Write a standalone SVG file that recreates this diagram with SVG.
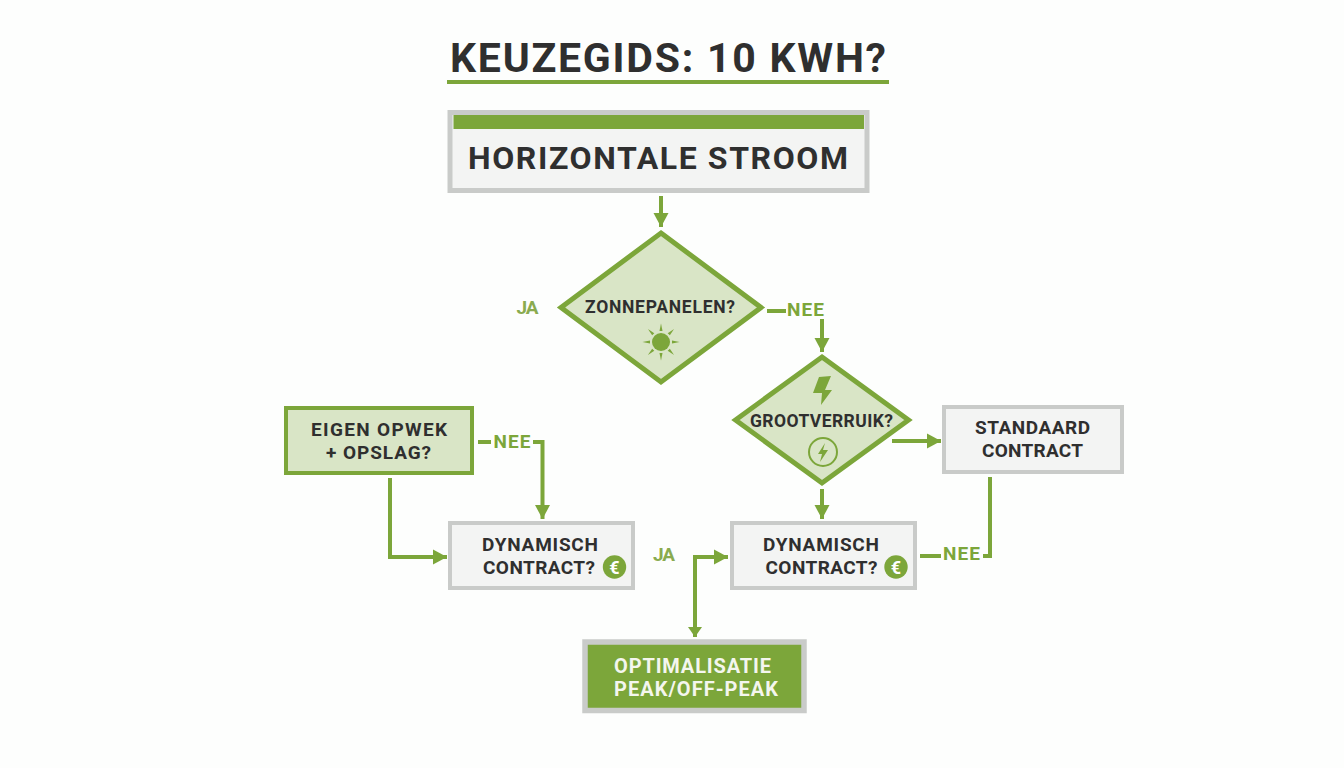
<svg xmlns="http://www.w3.org/2000/svg" width="1344" height="768" viewBox="0 0 1344 768">
<style>
text{font-family:Roboto,"Open Sans","Liberation Sans",sans-serif;font-weight:700;text-anchor:middle;fill:#2f2f2f}
.box{fill:#f3f4f3;stroke:#c9cbc9;stroke-width:4}
.q{fill:#d9e5c6;stroke:#7ca63a;stroke-width:5}
.l{font-size:19px;fill:#7ca63a}
.ja{font-size:19px;fill:#8aab4f}
.t{font-size:19px}
.d{font-size:17.500px}
.e{font-size:18px;fill:#fff}
.w{font-size:20px;fill:#f4f6ee;text-anchor:start}
.c{fill:none;stroke:#7ca63a;stroke-width:4}
.g{fill:#7ca63a}
</style>
<defs>
<marker id="a" markerUnits="userSpaceOnUse" markerWidth="15" markerHeight="16" refX="14" refY="8" orient="auto"><path d="M0 0.500L14 8L0 15.500Z" fill="#7ca63a"/></marker>
<path id="ray" d="M659.500 331L661 323.500L662.500 331Z" fill="#7ca63a"/>
</defs>
<rect width="1344" height="768" fill="#fdfefd"/>
<g id="title"><text x="668" y="72" style="font-size:41px" textLength="436">KEUZEGIDS: 10 KWH?</text><rect x="447" y="80" width="442" height="4" class="g"/></g>
<g id="connectors">
<path class="c" marker-end="url(#a)" d="M661 196V227"/>
<path class="c" d="M767 311H786"/>
<path class="c" marker-end="url(#a)" d="M822 319V352"/>
<path class="c" marker-end="url(#a)" d="M892 441H941"/>
<path class="c" marker-end="url(#a)" d="M822 489V519"/>
<path class="c" d="M990 477V556H983"/>
<path class="c" d="M920 556H941"/>
<path class="c" d="M478 442H491"/>
<path class="c" marker-end="url(#a)" d="M533 442H542.500V519"/>
<path class="c" marker-end="url(#a)" d="M390 478V557H447"/>
<path class="c" marker-end="url(#a)" d="M695 637V557H728"/>
<path d="M695 637L688 627H702Z" class="g"/>
</g>
<g id="n-start"><rect x="450" y="112.500" width="417" height="78" class="box" style="stroke-width:5"/><rect x="453.500" y="115" width="410.500" height="14" class="g"/><text x="658" y="169" style="font-size:32px" textLength="380">HORIZONTALE STROOM</text></g>
<g id="n-zon"><path class="q" d="M661 233L761 307.500L661 382L561 307.500Z"/><text x="660" y="313" class="d" textLength="150">ZONNEPANELEN?</text><circle cx="661" cy="342" r="9" class="g"/><use href="#ray"/><use href="#ray" transform="rotate(45 661 342)"/><use href="#ray" transform="rotate(90 661 342)"/><use href="#ray" transform="rotate(135 661 342)"/><use href="#ray" transform="rotate(180 661 342)"/><use href="#ray" transform="rotate(225 661 342)"/><use href="#ray" transform="rotate(270 661 342)"/><use href="#ray" transform="rotate(315 661 342)"/></g>
<g id="n-groot"><path class="q" d="M822 357L908.500 420L822 483L735.500 420Z"/><path d="M819 377L831 376L825 390H832L821 405L822 393H813Z" class="g"/><text x="821.500" y="427" class="d" textLength="143">GROOTVERRUIK?</text><circle cx="823" cy="452" r="14" fill="none" stroke="#7ca63a" stroke-width="2"/><path d="M825 443L818 454H822L820 462L828 450H823Z" class="g"/></g>
<g id="n-std"><rect x="944" y="407" width="178" height="65" class="box"/><text x="1032.500" y="434" class="t" textLength="115">STANDAARD</text><text x="1032.500" y="457" class="t" textLength="101">CONTRACT</text></g>
<g id="n-eigen"><rect x="286" y="408" width="186" height="65" class="q" style="stroke-width:4"/><text x="379" y="436" class="t" textLength="136">EIGEN OPWEK</text><text x="378.500" y="459" class="t" textLength="105">+ OPSLAG?</text></g>
<g id="n-dyn1"><rect x="450" y="523" width="183" height="65" class="box"/><text x="540" y="551" class="t" textLength="116">DYNAMISCH</text><text x="539" y="574" class="t" textLength="112">CONTRACT?</text><circle cx="614.500" cy="567" r="11.700" class="g"/><text x="614.500" y="573.500" class="e">€</text></g>
<g id="n-dyn2"><rect x="732" y="523" width="183" height="65" class="box"/><text x="821" y="551" class="t" textLength="116">DYNAMISCH</text><text x="821.500" y="574" class="t" textLength="112">CONTRACT?</text><circle cx="896" cy="567" r="11.700" class="g"/><text x="896" y="573.500" class="e">€</text></g>
<g id="n-opt"><rect x="585" y="642" width="219" height="68.500" fill="#7ca63a" stroke="#c9cbc9" stroke-width="5.500"/><text x="614" y="673" class="w" textLength="157">OPTIMALISATIE</text><text x="614" y="696" class="w" textLength="164">PEAK/OFF-PEAK</text></g>
<g id="labels">
<text x="527.500" y="314" class="ja" textLength="22">JA</text><text x="805.500" y="316" class="l" textLength="37">NEE</text><text x="512" y="448" class="l" textLength="37">NEE</text><text x="961.500" y="560" class="l" textLength="37">NEE</text><text x="664" y="561" class="ja" textLength="22">JA</text>
</g>
</svg>
